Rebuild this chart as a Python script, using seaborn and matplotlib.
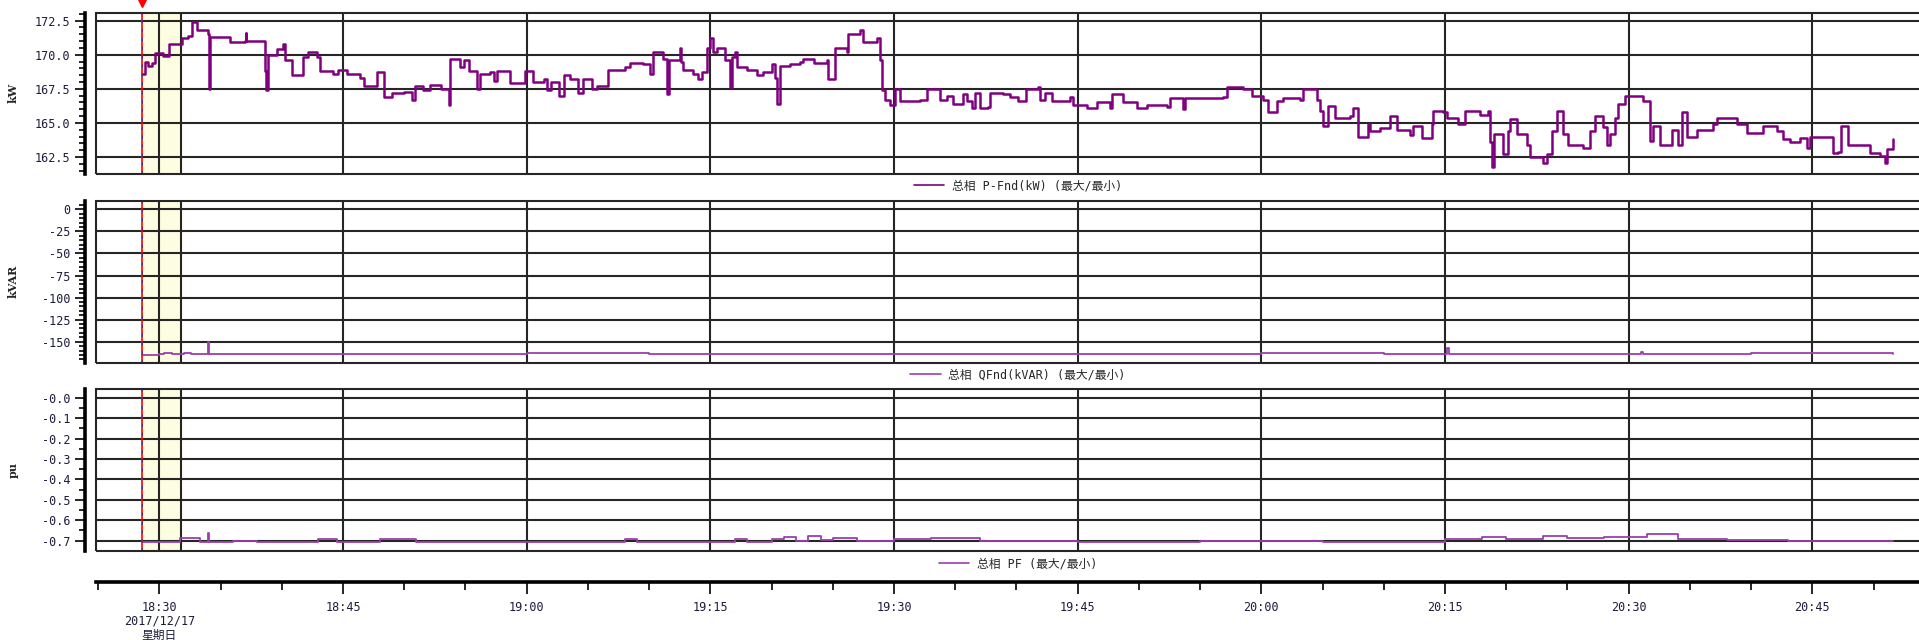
import matplotlib
matplotlib.use('Agg')
import matplotlib.pyplot as plt
from matplotlib.patches import Rectangle
from matplotlib.ticker import MultipleLocator
import matplotlib.transforms as mtransforms
import pandas as pd
import seaborn as sns

# time axis is minutes after 18:30 on 2017/12/17
p_time = [-1.44, -1.2, -0.9, -0.6, -0.35, 0.33, 0.82, 1.69, 1.83, 2.37,
          2.64, 3.05, 4.0, 4.09, 4.14, 5.78, 7.0, 7.05, 7.1, 8.6,
          8.64, 8.72, 8.91, 9.59, 10.14, 10.27, 10.82, 11.77, 12.18, 12.86,
          13.13, 14.22, 14.6, 15.31, 16.4, 16.68, 17.77, 18.31, 19.0, 20.0,
          20.63, 20.9, 21.5, 22.13, 23.0, 23.62, 23.76, 24.58, 24.85, 25.3,
          25.94, 26.21, 27.03, 27.3, 27.6, 28.66, 29.89, 30.5, 31.39, 31.66,
          32.0, 32.62, 33.02, 33.54, 34.22, 34.63, 35.31, 35.72, 36.67, 38.03,
          38.44, 39.5, 40.07, 40.35, 41.16, 41.43, 41.6, 42.52, 42.6, 42.8,
          43.61, 44.0, 44.29, 44.76, 44.97, 45.2, 45.52, 46.2, 46.61, 46.74,
          47.0, 47.15, 47.97, 48.78, 49.33, 50.01, 50.28, 50.47, 50.69, 51.5,
          52.32, 52.6, 53.5, 54.5, 54.64, 55.18, 56.13, 56.27, 57.22, 57.5,
          58.58, 58.86, 58.99, 59.3, 59.67, 60.08, 60.49, 62.12, 62.67, 63.48,
          63.76, 64.3, 64.84, 65.66, 66.0, 66.34, 66.61, 67.0, 67.7, 67.84,
          68.93, 69.47, 70.15, 70.78, 71.78, 71.92, 72.3, 72.87, 74.37, 74.64,
          75.73, 76.55, 77.64, 77.77, 78.73, 79.81, 80.63, 82.26, 82.54, 83.63,
          83.8, 86.89, 87.16, 88.53, 89.2, 90.16, 90.57, 91.25, 91.79, 93.15,
          93.43, 94.51, 94.79, 95.06, 95.47, 96.01, 97.24, 97.51, 97.92, 98.73,
          98.87, 99.69, 100.5, 101.05, 102.14, 102.41, 103.09, 103.91, 104.04, 104.86,
          105.13, 106.09, 106.63, 107.86, 108.54, 108.68, 108.81, 109.0, 109.77, 110.17,
          110.31, 110.85, 111.67, 111.94, 113.03, 113.3, 113.71, 114.12, 114.67, 115.07,
          116.3, 116.84, 117.25, 117.93, 118.2, 118.48, 118.88, 119.16, 119.7, 121.2,
          121.74, 122.02, 122.56, 123.51, 124.06, 124.33, 124.79, 125.55, 126.91, 127.19,
          128.82, 129.64, 131.0, 132.09, 132.63, 133.18, 133.99, 134.54, 134.81, 136.72,
          137.13, 137.32, 137.94, 139.71, 140.53, 140.94, 141.07, 141.62]
p_kw = [168.6, 169.5, 169.2, 169.4, 170.1, 169.9, 170.8, 170.8, 171.2, 171.4,
        172.4, 171.8, 171.5, 167.5, 171.3, 170.9, 171.0, 171.6, 171.0, 171.0,
        168.8, 167.4, 170.0, 170.4, 170.8, 169.6, 168.5, 169.8, 170.2, 169.8,
        168.8, 168.6, 168.9, 168.6, 168.3, 167.7, 168.7, 166.9, 167.2, 167.3,
        166.7, 167.7, 167.4, 167.8, 167.5, 166.3, 169.7, 169.1, 169.6, 168.8,
        167.5, 168.6, 168.7, 168.1, 168.8, 167.9, 168.8, 168.0, 168.2, 167.4,
        168.0, 167.0, 168.5, 168.2, 167.2, 168.2, 167.5, 167.7, 168.9, 169.1,
        169.4, 169.3, 168.6, 170.2, 169.7, 167.1, 169.6, 170.5, 169.5, 168.9,
        168.6, 168.2, 168.7, 170.5, 171.2, 170.2, 170.5, 169.6, 167.6, 169.8,
        170.2, 169.1, 168.9, 168.5, 168.7, 169.3, 168.3, 166.4, 169.2, 169.3,
        169.5, 169.7, 169.4, 169.6, 168.2, 170.5, 170.2, 171.5, 171.8, 170.9,
        171.2, 169.6, 167.4, 166.7, 166.3, 167.5, 166.6, 166.7, 167.5, 167.5,
        166.7, 167.0, 166.4, 167.1, 166.6, 166.1, 167.2, 166.1, 166.2, 167.2,
        167.1, 166.9, 166.6, 167.5, 167.6, 166.7, 167.2, 166.6, 166.9, 166.3,
        166.1, 166.5, 166.1, 167.1, 166.5, 166.1, 166.3, 166.2, 166.8, 166.0,
        166.8, 166.9, 167.65, 167.5, 167.0, 166.7, 165.8, 166.6, 166.8, 166.7,
        167.5, 166.7, 165.9, 164.8, 166.25, 165.4, 165.5, 166.1, 164.0, 164.9,
        164.4, 164.6, 165.5, 164.5, 164.1, 164.8, 163.9, 164.9, 165.9, 165.8,
        165.4, 164.9, 165.9, 165.6, 165.9, 163.6, 161.8, 164.2, 162.7, 164.4,
        165.3, 164.2, 163.4, 162.5, 162.1, 162.7, 164.4, 165.9, 164.2, 163.4,
        163.2, 164.4, 165.5, 164.7, 163.4, 164.2, 165.4, 166.4, 167.0, 166.6,
        163.7, 164.8, 163.4, 164.5, 163.4, 165.8, 164.0, 164.5, 164.9, 165.4,
        164.9, 164.3, 164.8, 164.4, 163.8, 163.6, 163.9, 163.2, 164.0, 162.8,
        162.9, 164.8, 163.4, 162.8, 162.6, 162.1, 163.1, 163.8]

q_time = [-1.44, 0.0, 0.4, 1.0, 2.0, 2.6, 3.0, 3.98, 4.05, 12.0,
          20.0, 30.0, 40.0, 50.0, 60.0, 70.0, 80.0, 90.0, 100.0, 105.2,
          105.35, 112.0, 121.0, 121.2, 130.0, 141.6]
q_kvar = [-165.0, -164.5, -163.0, -163.8, -162.8, -163.6, -163.7, -150.7, -163.5, -163.4,
          -163.6, -163.3, -163.6, -163.4, -163.7, -163.5, -163.6, -163.3, -163.6, -157.5,
          -163.4, -163.5, -162.0, -163.4, -163.3, -163.5]

pf_time = [-1.44, 1.7, 3.3, 3.98, 4.05, 6.0, 8.0, 13.0, 14.5, 18.0,
           21.0, 25.0, 30.0, 38.0, 39.0, 44.0, 47.0, 48.0, 50.0, 51.0,
           52.0, 53.0, 54.0, 55.0, 57.0, 60.0, 63.0, 67.0, 75.0, 85.0,
           95.0, 105.0, 108.0, 110.0, 113.0, 115.0, 118.0, 121.5, 124.0, 128.0,
           133.0, 141.6]
pf_pu = [-0.705, -0.685, -0.708, -0.66, -0.708, -0.703, -0.708, -0.69, -0.706, -0.69,
         -0.706, -0.708, -0.706, -0.69, -0.706, -0.704, -0.69, -0.704, -0.69, -0.68,
         -0.70, -0.675, -0.698, -0.685, -0.70, -0.692, -0.688, -0.70, -0.705, -0.703,
         -0.705, -0.69, -0.682, -0.69, -0.678, -0.688, -0.68, -0.665, -0.69, -0.695,
         -0.70, -0.70]

kw_ticks = [162.5, 165.0, 167.5, 170.0, 172.5]
kw_labels = ['162.5', '165.0', '167.5', '170.0', '172.5']
kvar_ticks = [0, -25, -50, -75, -100, -125, -150]
kvar_labels = ['0', '-25', '-50', '-75', '-100', '-125', '-150']
pf_ticks = [0.0, -0.1, -0.2, -0.3, -0.4, -0.5, -0.6, -0.7]
pf_labels = ['-0.0', '-0.1', '-0.2', '-0.3', '-0.4', '-0.5', '-0.6', '-0.7']

time_ticks = [0, 15, 30, 45, 60, 75, 90, 105, 120, 135]
time_labels = ['18:30\n2017/12/17\n星期日', '18:45', '19:00', '19:15', '19:30',
               '19:45', '20:00', '20:15', '20:30', '20:45']

legend_p = '总相 P-Fnd(kW) (最大/最小)'
legend_q = '总相 QFnd(kVAR) (最大/最小)'
legend_pf = '总相 PF (最大/最小)'

cursor_t = -1.44
band_end = 1.8
x_range = (-5.17, 144.2)

sns.set_style('white')
mono = ['DejaVu Sans Mono', 'Noto Sans CJK SC']
plt.rcParams['font.family'] = mono
plt.rcParams['axes.unicode_minus'] = False

W, H = 1919, 640
fig = plt.figure(figsize=(W / 100, H / 100), dpi=100)
fig.patch.set_facecolor('white')

left = 96 / W
width = (1925 - 96) / W
ax1 = fig.add_axes([left, 1 - 174 / H, width, (174 - 12.7) / H])
ax2 = fig.add_axes([left, 1 - 362.7 / H, width, 162 / H])
ax3 = fig.add_axes([left, 1 - 550.7 / H, width, 161.7 / H])
axt = fig.add_axes([left, 1 - 582 / H, width, 0.0005])

grid_c = '#262626'
tick_c = '#1c1c3c'


def style_panel(ax, ylim, ticks, labels, minor, ylabel, legend_y):
    ax.set_xlim(*x_range)
    ax.set_ylim(*ylim)
    ax.set_facecolor('white')
    ax.axvspan(cursor_t, band_end, color='#fdfde2', zorder=0)
    for t in time_ticks:
        ax.axvline(t, color=grid_c, lw=1.5, zorder=1)
    ax.axvline(band_end, color=grid_c, lw=1.5, zorder=1)
    for y in ticks:
        ax.axhline(y, color=grid_c, lw=1.5, zorder=1)
    ax.axvline(cursor_t, color='red', lw=1.2, zorder=4)
    ax.axvline(cursor_t, color='#503070', lw=0.8, ls=(0, (3, 5)), zorder=5)

    ax.set_yticks(ticks)
    ax.set_yticklabels(labels)
    ax.yaxis.set_minor_locator(MultipleLocator(minor))
    ax.tick_params(axis='y', which='major', direction='out', length=7, width=1.4,
                   pad=3.5, labelsize=8.5, labelcolor=tick_c, left=True)
    ax.tick_params(axis='y', which='minor', direction='out', length=4, width=1.4, left=True)
    ax.tick_params(axis='x', which='both', bottom=False, labelbottom=False)
    for s in ['top', 'right', 'bottom']:
        ax.spines[s].set_visible(False)
    ax.spines['left'].set_position(('outward', 8))
    ax.spines['left'].set_linewidth(2.6)
    ax.spines['left'].set_color('black')
    ax.add_patch(Rectangle((0, 0), 1, 1, transform=ax.transAxes, fill=False,
                           lw=1.5, ec=grid_c, zorder=6, clip_on=False))
    ax.set_xlabel('')
    ax.set_ylabel(ylabel, family='DejaVu Serif', fontweight='bold', fontsize=8)
    ax.yaxis.set_label_coords((19 - 96) / 1829, 0.5)
    leg = ax.legend(loc='center', bbox_to_anchor=(0.504, legend_y), frameon=False,
                    handlelength=2.6, handletextpad=0.6,
                    prop={'family': mono, 'size': 8.5})
    for line in leg.get_lines():
        line.set_linewidth(1.2)


p_df = pd.DataFrame({'t': p_time, 'v': p_kw})
q_df = pd.DataFrame({'t': q_time, 'v': q_kvar})
pf_df = pd.DataFrame({'t': pf_time, 'v': pf_pu})

sns.lineplot(data=p_df, x='t', y='v', ax=ax1, color='#800080', lw=1.8,
             drawstyle='steps-post', estimator=None, label=legend_p, zorder=3)
sns.lineplot(data=q_df, x='t', y='v', ax=ax2, color='#9a3fae', lw=1.3,
             drawstyle='steps-post', estimator=None, label=legend_q, zorder=3)
sns.lineplot(data=pf_df, x='t', y='v', ax=ax3, color='#9a3fae', lw=1.3,
             drawstyle='steps-post', estimator=None, label=legend_pf, zorder=3)

style_panel(ax1, (161.26, 173.08), kw_ticks, kw_labels, 0.5, 'kW', -0.075)
style_panel(ax2, (-173.8, 9.8), kvar_ticks, kvar_labels, 5, 'kVAR', -0.076)
style_panel(ax3, (-0.749, 0.043), pf_ticks, pf_labels, 0.05, 'pu', -0.082)

# cursor marker above the first panel
trans = mtransforms.blended_transform_factory(ax1.transData, ax1.transAxes)
ax1.plot([cursor_t], [1.07], marker='v', ms=9, color='red', transform=trans,
         clip_on=False, zorder=10)

# shared time axis at the bottom
axt.set_xlim(*x_range)
axt.patch.set_visible(False)
for s in ['top', 'right', 'left']:
    axt.spines[s].set_visible(False)
axt.spines['bottom'].set_linewidth(2.6)
axt.spines['bottom'].set_color('black')
axt.set_yticks([])
axt.set_xticks(time_ticks)
axt.set_xticklabels(time_labels, linespacing=1.1)
axt.xaxis.set_minor_locator(MultipleLocator(5))
axt.tick_params(axis='x', which='major', direction='out', length=8.5, width=1.4,
                pad=5, labelsize=8.5, labelcolor=tick_c, bottom=True)
axt.tick_params(axis='x', which='minor', direction='out', length=5.5, width=1.4, bottom=True)

fig.savefig('out.png', dpi=100)
